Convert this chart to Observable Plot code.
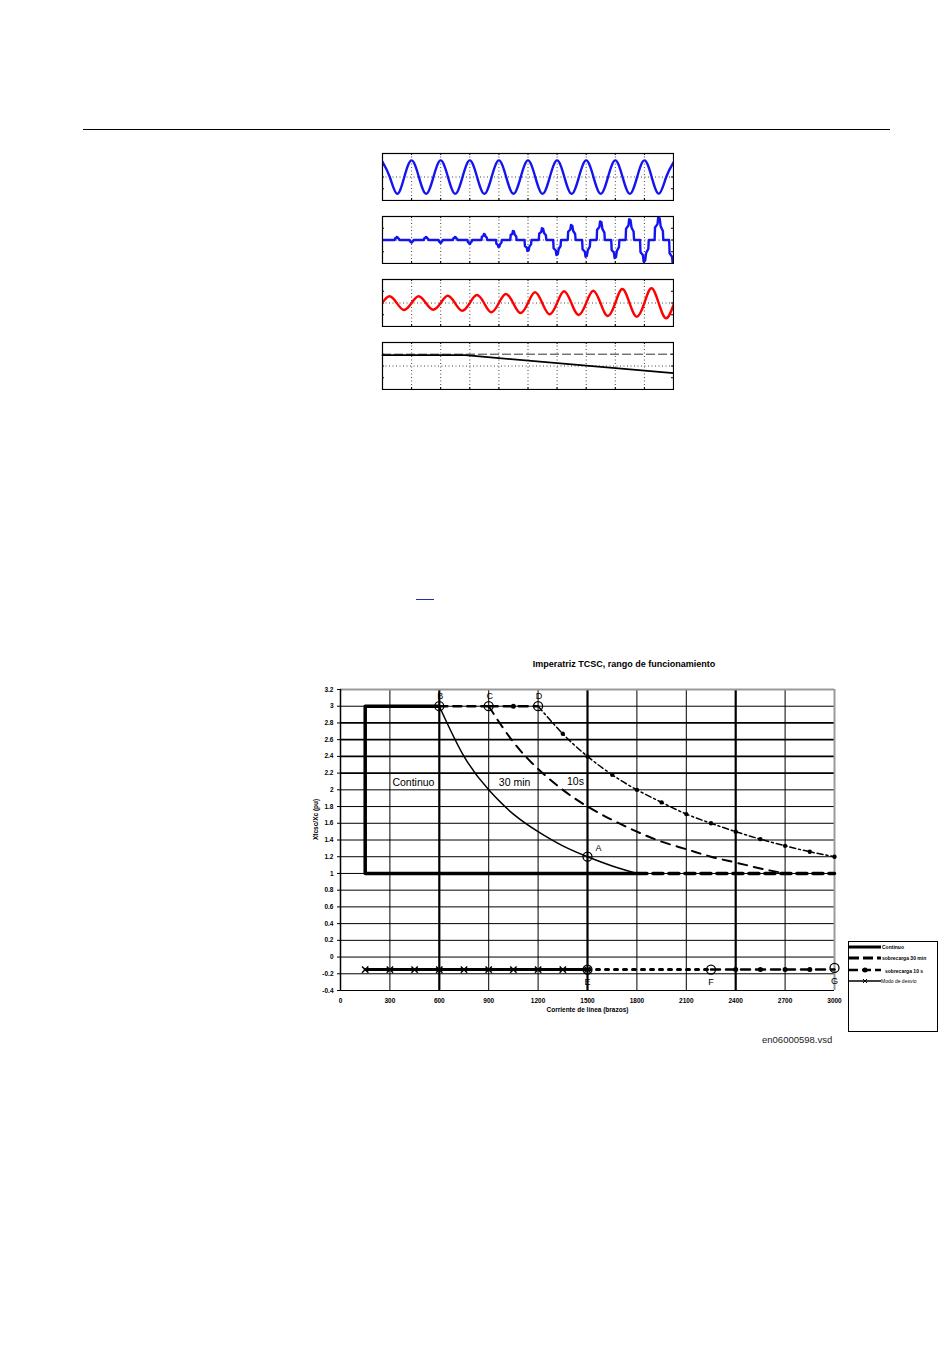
<!DOCTYPE html>
<html><head><meta charset="utf-8">
<script src="https://cdn.jsdelivr.net/npm/d3@7"></script>
<script src="https://cdn.jsdelivr.net/npm/@observablehq/plot@0.6"></script>
<style>
body{margin:0;background:#fff;width:950px;height:1353px;position:relative;overflow:hidden;font-family:"Liberation Sans",Arial,sans-serif;color:#000}
.abs{position:absolute}
</style></head><body>
<div class="abs" style="left:83px;top:129px;width:807px;height:0;border-top:1px solid #000"></div>
<div id="w1" class="abs" style="left:381px;top:152px;width:293px"></div>
<div id="w2" class="abs" style="left:381px;top:215px;width:293px"></div>
<div id="w3" class="abs" style="left:381px;top:278px;width:293px"></div>
<div id="w4" class="abs" style="left:381px;top:341px;width:293px"></div>
<div class="abs" style="left:416px;top:599px;width:18px;height:0;border-top:1.5px solid #2b2ba6"></div>
<div class="abs" style="left:474px;top:659px;width:300px;text-align:center;font-size:9px;line-height:10px;font-weight:bold">Imperatriz TCSC, rango de funcionamiento</div>
<div id="main" class="abs" style="left:300px;top:680px;width:650px"></div>
<div class="abs" style="left:848px;top:941px;width:88px;height:89px;border:1.5px solid #000;background:#fff">
<svg width="88" height="89" style="display:block;font-family:'Liberation Sans',Arial,sans-serif;font-size:5px;font-weight:bold">
<line x1="0" y1="5" x2="32" y2="5" stroke="#000" stroke-width="3"/>
<text x="33" y="7">Continuo</text>
<line x1="0" y1="16" x2="32" y2="16" stroke="#000" stroke-width="3" stroke-dasharray="10,4"/>
<text x="33" y="18">sobrecarga 30 min</text>
<line x1="0" y1="28" x2="32" y2="28" stroke="#000" stroke-width="2.5" stroke-dasharray="9,4"/>
<circle cx="16" cy="28" r="2.5" fill="#000"/>
<text x="36" y="31">sobrecarga 10 s</text>
<line x1="0" y1="39" x2="32" y2="39" stroke="#000" stroke-width="1.5"/>
<path d="M14,37 L18,41 M18,37 L14,41" stroke="#000" stroke-width="1"/>
<text x="32" y="41" font-weight="normal">Modo de desvío</text>
</svg>
</div>
<div class="abs" style="left:762px;top:1034px;font-size:9.5px;line-height:11px;color:#222">en06000598.vsd</div>
<script>
// ---------- waveform panels (time in grid divisions, values in panel units) ----------
const gridT = [1, 2, 3, 4, 5, 6, 7, 8, 9];
const sideTicks = [-11.75, 0, 11.75];
// panel 1: blue sine, extrema at every half division (t = 0, 0.5, 1, ... 10)
const wave1Extrema = [15.2, -16.8, 16.6, -16.8, 16.6, -16.8, 16.6, -16.8, 16.6, -16.8, 16.6,
  -16.8, 16.6, -16.8, 16.6, -16.8, 16.6, -16.8, 16.6, -16.6, 14.5];
// panel 2: thyristor current pulses
const pulseT = [0.5, 1, 1.5, 2, 2.5, 3, 3.5, 4, 4.5, 5, 5.5, 6, 6.5, 7, 7.5, 8, 8.5, 9, 9.5, 10];
const pulseA = [3, -2.5, 3, -3, 3, -4, 6, -7, 9, -11, 11.7, -15, 15, -16.7, 18.6, -18, 20.7, -21.7, 22.7, -24];
const pulseW = [0.16, 0.14, 0.16, 0.14, 0.16, 0.16, 0.2, 0.2, 0.22, 0.24, 0.26, 0.27, 0.27, 0.28, 0.28, 0.28, 0.29, 0.3, 0.3, 0.3];
// panel 3: red voltage with growing amplitude
const wave3Peaks = [6.7, 6.7, 7.2, 8, 9, 10.7, 11.7, 12.3, 14, 14.7];
const wave3Troughs = [-7, -6.7, -7.7, -9.3, -10, -11.3, -12, -13, -13.7, -15.3];
const wave3Start = 0.5, wave3End = -2;
// panel 4: black ramp and dashed reference
const rampT = [0, 2.85, 10];
const rampV = [10.8, 10.8, -7.2];
const refV = 11.8;

function panel(marks) {
  return Plot.plot({
    width: 293, height: 49, margin: 1,
    x: {domain: [0, 10], axis: null},
    y: {domain: [-23.5, 23.5], axis: null},
    style: {background: "transparent"},
    marks: [
      Plot.ruleX(gridT, {stroke: "#444", strokeDasharray: "1,2.5", strokeWidth: 1}),
      Plot.ruleY([0], {stroke: "#444", strokeDasharray: "1,2.5", strokeWidth: 1}),
      Plot.ruleX(gridT, {y1: -23.5, y2: -21.5, stroke: "#000", strokeWidth: 1}),
      Plot.ruleX(gridT, {y1: 23.5, y2: 21.5, stroke: "#000", strokeWidth: 1}),
      Plot.ruleY(sideTicks, {x1: 0, x2: 0.07, stroke: "#000", strokeWidth: 1}),
      Plot.ruleY(sideTicks, {x1: 10, x2: 9.93, stroke: "#000", strokeWidth: 1}),
      ...marks,
      Plot.frame({stroke: "#000", strokeWidth: 1.2})
    ]
  });
}

const w1 = [];
wave1Extrema.forEach((v, i) => {
  w1.push({t: i * 0.5, v});
  if (i < wave1Extrema.length - 1) w1.push({t: i * 0.5 + 0.25, v: 0});
});
document.getElementById("w1").append(panel([
  Plot.line(w1, {x: "t", y: "v", stroke: "#1414f0", strokeWidth: 2.4, curve: "natural", clip: true})
]));

const w2 = [{t: 0, v: 0}];
pulseT.forEach((c, i) => {
  const w = pulseW[i], a = pulseA[i];
  w2.push({t: c - w / 2, v: 0}, {t: c - w / 2 + 0.015, v: a * 0.55}, {t: c - w / 6, v: a * 0.7},
          {t: c - w / 12, v: a}, {t: c + w / 12, v: a * 0.95}, {t: c + w / 5, v: a * 0.6},
          {t: c + w / 2 - 0.015, v: a * 0.4}, {t: c + w / 2, v: 0});
});
document.getElementById("w2").append(panel([
  Plot.line(w2, {x: "t", y: "v", stroke: "#1414f0", strokeWidth: 2.4, clip: true})
]));

const w3 = [{t: 0, v: wave3Start}];
wave3Peaks.forEach((p, k) => {
  w3.push({t: k + 0.24, v: p}, {t: k + 0.49, v: 0}, {t: k + 0.74, v: wave3Troughs[k]});
  w3.push(k < wave3Peaks.length - 1 ? {t: k + 1, v: 0} : {t: 10, v: wave3End});
});
document.getElementById("w3").append(panel([
  Plot.line(w3, {x: "t", y: "v", stroke: "#ff0000", strokeWidth: 2.4, curve: "natural", clip: true})
]));

document.getElementById("w4").append(panel([
  Plot.ruleY([refV], {stroke: "#333", strokeWidth: 1, strokeDasharray: "9,3"}),
  Plot.line(rampT.map((t, i) => ({t, v: rampV[i]})), {x: "t", y: "v", stroke: "#000", strokeWidth: 1.8})
]));

// ---------- main chart ----------
const xTicks = [0, 300, 600, 900, 1200, 1500, 1800, 2100, 2400, 2700, 3000];
const yTicks = [-0.4, -0.2, 0, 0.2, 0.4, 0.6, 0.8, 1, 1.2, 1.4, 1.6, 1.8, 2, 2.2, 2.4, 2.6, 2.8, 3, 3.2];
const xBoldGrid = [600, 1500, 2400];
const yBoldGrid = [2.2, 2.4, 2.6, 2.8];

const boxX = [600, 150, 150, 1800];
const boxY = [3.0, 3.0, 1.0, 1.0];
const contX = [600, 750, 900, 1050, 1200, 1350, 1500, 1650, 1800];
const contY = [3.0, 2.4, 2.0, 1.71, 1.5, 1.33, 1.2, 1.09, 1.0];
const contTailX = [1800, 3000];
const contTailY = [1.0, 1.0];

const min30TopX = [600, 900];
const min30TopY = [3.0, 3.0];
const min30X = [900, 1050, 1200, 1350, 1500, 1650, 1800, 1950, 2100, 2250, 2400, 2550, 2700];
const min30Y = [3.0, 2.57, 2.25, 2.0, 1.8, 1.64, 1.5, 1.38, 1.29, 1.2, 1.13, 1.06, 1.0];

const s10TopX = [900, 1200];
const s10TopY = [3.0, 3.0];
const s10TopDotX = [1050];
const s10X = [1200, 1350, 1500, 1650, 1800, 1950, 2100, 2250, 2400, 2550, 2700, 2850, 3000];
const s10Y = [3.0, 2.67, 2.4, 2.18, 2.0, 1.85, 1.71, 1.6, 1.5, 1.41, 1.33, 1.26, 1.2];

const bypassX = [150, 300, 450, 600, 750, 900, 1050, 1200, 1350, 1500];
const bypassLevel = -0.15;
const dottedX = [1500, 2250];
const tailX = [2250, 3000];
const tailDotX = [2400, 2550, 2700, 2850];

const ptName = ["A", "B", "C", "D", "E", "F", "G"];
const ptX = [1500, 600, 900, 1200, 1500, 2250, 3000];
const ptY = [1.2, 3.0, 3.0, 3.0, -0.15, -0.15, -0.13];

const zoneName = ["Continuo", "30 min", "10s"];
const zoneX = [443, 1057, 1427];
const zoneY = [2.09, 2.09, 2.1];

const pts = ptName.map((n, i) => ({n, x: ptX[i], y: ptY[i]}));
const xy = (xs, ys) => xs.map((x, i) => ({x, y: Array.isArray(ys) ? ys[i] : ys}));

const main = Plot.plot({
  width: 650, height: 350,
  marginLeft: 40, marginRight: 116, marginTop: 9, marginBottom: 40,
  x: {domain: [0, 3000]},
  y: {domain: [-0.4, 3.2]},
  style: {background: "transparent", fontFamily: "'Liberation Sans', Arial, sans-serif", fontSize: "6.5px", fontWeight: "bold", color: "#000"},
  marks: [
    Plot.ruleY(yTicks.filter(v => v > -0.4 && v < 3.2 && !yBoldGrid.includes(v)), {stroke: "#000", strokeWidth: 1}),
    Plot.ruleY(yBoldGrid, {stroke: "#000", strokeWidth: 1.8}),
    Plot.ruleX(xTicks.filter(v => v > 0 && v < 3000 && !xBoldGrid.includes(v)), {stroke: "#000", strokeWidth: 1}),
    Plot.ruleX(xBoldGrid, {stroke: "#000", strokeWidth: 2.2}),
    Plot.ruleY([3.2], {stroke: "#999", strokeWidth: 2}),
    Plot.ruleX([3000], {stroke: "#999", strokeWidth: 2}),
    Plot.ruleY([-0.4], {stroke: "#000", strokeWidth: 1}),
    Plot.ruleX([0], {stroke: "#000", strokeWidth: 1.5}),
    Plot.axisX({ticks: xTicks, tickSize: 0, tickPadding: 8, label: null, tickFormat: d => String(d)}),
    Plot.axisY({ticks: yTicks, tickSize: 3, tickPadding: 4, label: null, tickFormat: d => String(d)}),
    Plot.text(["Corriente de línea (brazos)"], {frameAnchor: "bottom", dy: 21, fontSize: 6.5, fontWeight: "bold"}),
    Plot.text(["Xtcsc/Xc (pu)"], {frameAnchor: "left", dx: -25, rotate: -90, fontSize: 6.5, fontWeight: "bold"}),
    // continuo
    Plot.line(xy(boxX, boxY), {x: "x", y: "y", stroke: "#000", strokeWidth: 3.5}),
    Plot.line(xy(contX, contY), {x: "x", y: "y", stroke: "#000", strokeWidth: 1.5, curve: "natural"}),
    Plot.line(xy(contTailX, contTailY), {x: "x", y: "y", stroke: "#000", strokeWidth: 3.5, strokeDasharray: "10,6"}),
    // 30 min
    Plot.line(xy(min30TopX, min30TopY), {x: "x", y: "y", stroke: "#000", strokeWidth: 2.5, strokeDasharray: "8,6"}),
    Plot.line(xy(min30X, min30Y), {x: "x", y: "y", stroke: "#000", strokeWidth: 2, strokeDasharray: "9,7", curve: "natural"}),
    // 10 s
    Plot.line(xy(s10TopX, s10TopY), {x: "x", y: "y", stroke: "#000", strokeWidth: 2.5, strokeDasharray: "9,6"}),
    Plot.dot(s10TopDotX, {x: d => d, y: 3.0, r: 2.5, fill: "#000"}),
    Plot.line(xy(s10X, s10Y), {x: "x", y: "y", stroke: "#000", strokeWidth: 1.5, strokeDasharray: "6,3,2,3", curve: "natural"}),
    Plot.dot(xy(s10X.slice(1), s10Y.slice(1)), {x: "x", y: "y", r: 2.2, fill: "#000"}),
    // modo de desvío (bottom)
    Plot.line(xy(bypassX, bypassLevel), {x: "x", y: "y", stroke: "#000", strokeWidth: 3}),
    Plot.dot(xy(bypassX, bypassLevel), {x: "x", y: "y", symbol: "times", r: 3, stroke: "#000", strokeWidth: 1.5}),
    Plot.line(xy(dottedX, bypassLevel), {x: "x", y: "y", stroke: "#000", strokeWidth: 3, strokeDasharray: "3,6"}),
    Plot.line(xy(tailX, bypassLevel), {x: "x", y: "y", stroke: "#000", strokeWidth: 2.5, strokeDasharray: "9,6"}),
    Plot.dot(xy(tailDotX, bypassLevel), {x: "x", y: "y", r: 2.5, fill: "#000"}),
    // operating points
    Plot.dot(pts, {x: "x", y: "y", r: 4.5, stroke: "#000", strokeWidth: 1.3, fill: "none"}),
    Plot.text(pts.filter(d => "BCD".includes(d.n)), {x: "x", y: "y", text: "n", dy: -10, dx: 1, fontSize: 9, fontWeight: "normal"}),
    Plot.text(pts.filter(d => d.n === "A"), {x: "x", y: "y", text: "n", dx: 11, dy: -9, fontSize: 9, fontWeight: "normal"}),
    Plot.text(pts.filter(d => "EFG".includes(d.n)), {x: "x", y: "y", text: "n", dy: 13, fontSize: 9, fontWeight: "normal"}),
    Plot.text(zoneName.map((n, i) => ({n, x: zoneX[i], y: zoneY[i]})), {x: "x", y: "y", text: "n", fontSize: 10.5, fontWeight: "normal", fontFamily: "'Liberation Sans Narrow', 'Arial Narrow', sans-serif"})
  ]
});
document.getElementById("main").append(main);
</script>
</body></html>
